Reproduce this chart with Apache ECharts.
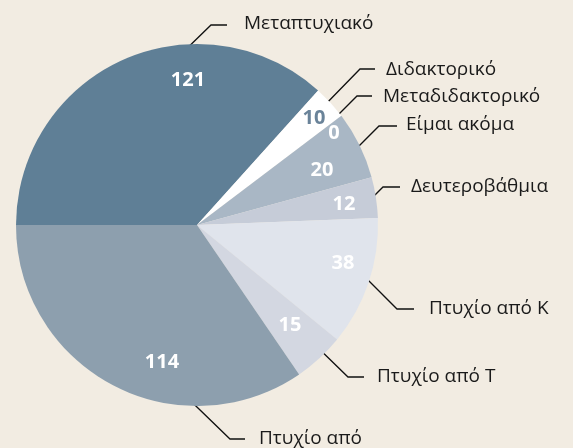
<!DOCTYPE html>
<html>
<head>
<meta charset="utf-8">
<script src="https://cdn.jsdelivr.net/npm/echarts@6/dist/echarts.min.js"></script>
<style>
  html, body { margin: 0; padding: 0; background: #f2ece2; }
  #chart { width: 573px; height: 448px; }
</style>
</head>
<body>
<div id="chart"></div>
<script>
// slice names and counts, clockwise from 9 o'clock
var categories = ['Μεταπτυχιακό', 'Διδακτορικό', 'Μεταδιδακτορικό', 'Είμαι ακόμα', 'Δευτεροβάθμια', 'Πτυχίο από Κ', 'Πτυχίο από Τ', 'Πτυχίο από']
var values = [121, 10, 0, 20, 12, 38, 15, 114]
var colors = ['#5f7f96', '#ffffff', '#b3bfcc', '#a9b7c5', '#c6ccd8', '#e0e4ec', '#d3d7e1', '#8d9fae']
var numberColors = ['#ffffff', '#6a8399', '#ffffff', '#ffffff', '#ffffff', '#ffffff', '#ffffff', '#ffffff']

// hand placed label spots (number centre, leader line, name start)
var numberSpots = [[188, 80], [314, 118], [334, 133], [322, 170], [344, 204], [343, 263], [290, 325], [162, 362]]
var leaderLines = [
  [[173, 62], [211, 25], [227, 25]],
  [[322, 108], [360, 69], [375, 69]],
  [[339, 114], [357, 96], [372, 96]],
  [[342, 163], [379, 126], [397, 126]],
  [[367, 203], [383, 187], [400, 187]],
  [[359, 271], [397, 309], [414, 309]],
  [[310, 340], [348, 377], [364, 377]],
  [[167, 378], [230, 439], [245, 439]]
]
var nameSpots = [[244, 24], [386, 70], [383, 97], [406, 125], [411, 187], [429, 309], [377, 377], [259, 439]]

var chart = echarts.init(document.getElementById('chart'))

var pieData = categories.map(function (name, i) {
  return { name: name, value: values[i], itemStyle: { color: colors[i] }, label: { color: numberColors[i] } }
})

chart.setOption({
  backgroundColor: '#f2ece2',
  animation: false,
  series: [
    {
      type: 'pie',
      center: [197, 225],
      radius: 181,
      startAngle: 180,
      clockwise: true,
      avoidLabelOverlap: false,
      silent: true,
      data: pieData,
      label: {
        show: true,
        position: 'inside',
        formatter: '{c}',
        fontFamily: 'Open Sans',
        fontWeight: 'bold',
        fontSize: 20
      },
      labelLine: { show: false },
      labelLayout: function (params) {
        var p = numberSpots[params.dataIndex]
        return { x: p[0], y: p[1], align: 'center', verticalAlign: 'middle' }
      }
    },
    {
      type: 'pie',
      center: [197, 225],
      radius: 181,
      startAngle: 180,
      clockwise: true,
      avoidLabelOverlap: false,
      silent: true,
      data: categories.map(function (name, i) { return { name: name, value: values[i] } }),
      itemStyle: { color: 'rgba(0,0,0,0)' },
      label: {
        show: true,
        position: 'outside',
        formatter: '{b}',
        color: '#1a1a1a',
        fontFamily: 'Open Sans',
        fontSize: 19
      },
      labelLine: {
        show: true,
        lineStyle: { color: '#111111', width: 1.3 }
      },
      labelLayout: function (params) {
        var i = params.dataIndex
        return {
          x: nameSpots[i][0],
          y: nameSpots[i][1],
          align: 'left',
          verticalAlign: 'middle',
          labelLinePoints: leaderLines[i]
        }
      }
    }
  ]
})
</script>
</body>
</html>
